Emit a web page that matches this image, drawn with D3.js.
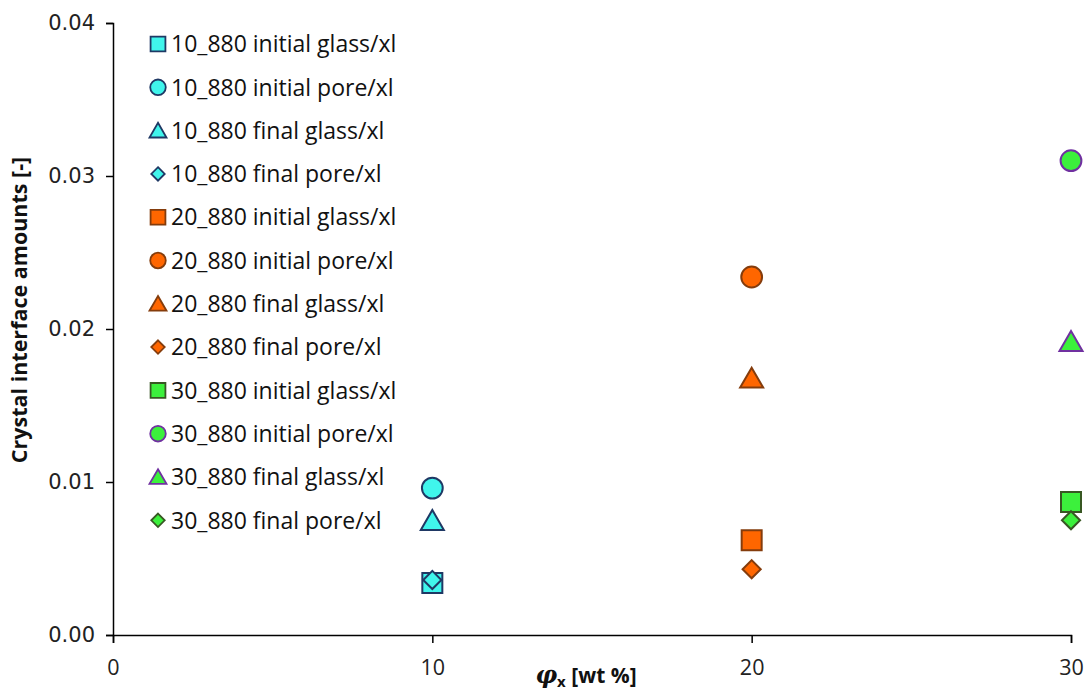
<!DOCTYPE html>
<html><head><meta charset="utf-8">
<script src="https://cdn.jsdelivr.net/npm/d3@7"></script>
<style>body{margin:0;background:#fff}</style>
</head><body>
<svg id="c" width="1090" height="690"></svg>
<script>
const seriesNames = [
 "10_880 initial glass/xl","10_880 initial pore/xl","10_880 final glass/xl","10_880 final pore/xl",
 "20_880 initial glass/xl","20_880 initial pore/xl","20_880 final glass/xl","20_880 final pore/xl",
 "30_880 initial glass/xl","30_880 initial pore/xl","30_880 final glass/xl","30_880 final pore/xl"];
const seriesX = [10,10,10,10,20,20,20,20,30,30,30,30];
const seriesY = [0.0034,0.0096,0.0075,0.0036, 0.0062,0.0234,0.0168,0.0043, 0.0087,0.0310,0.0192,0.0075];
const shapes = ["square","circle","triangle","diamond","square","circle","triangle","diamond","square","circle","triangle","diamond"];
const fills = ["#40F5EC","#40F5EC","#40F5EC","#40F5EC","#FF6600","#FF6600","#FF6600","#FF6600","#3CF03C","#3CF03C","#3CF03C","#3CF03C"];
const strokes = ["#1F3864","#1F3864","#1F3864","#1F3864","#843C0C","#843C0C","#843C0C","#843C0C","#385723","#7030A0","#7030A0","#385723"];
const xTicks = [0,10,20,30];
const yTicks = [0,0.01,0.02,0.03,0.04];

const svg = d3.select("#c");
const x = d3.scaleLinear().domain([0,30]).range([113,1071]);
const y = d3.scaleLinear().domain([0,0.04]).range([635,23]);

// axes
const xa = svg.append("g").attr("transform","translate(0,635)")
  .call(d3.axisBottom(x).tickValues(xTicks).tickSize(8).tickFormat(d3.format("d")));
xa.select(".domain").attr("stroke","#000").attr("stroke-width",1.5);
xa.selectAll(".tick line").attr("stroke","#000").attr("stroke-width",1.5);
xa.selectAll(".tick text").attr("font-family","'Open Sans', sans-serif").attr("font-size",21.5).attr("fill","#222").attr("y",25).attr("dy","0.71em");

const ya = svg.append("g").attr("transform","translate(113,0)")
  .call(d3.axisLeft(y).tickValues(yTicks).tickSize(7).tickFormat(d3.format(".2f")));
ya.select(".domain").attr("stroke","#000").attr("stroke-width",1.5);
ya.selectAll(".tick line").attr("stroke","#000").attr("stroke-width",1.5);
ya.selectAll(".tick text").attr("font-family","'DejaVu Sans', sans-serif").attr("font-size",21).attr("fill","#222").attr("x",-18);

// titles
svg.append("text").attr("transform","translate(27,310) rotate(-90)").attr("text-anchor","middle")
  .attr("font-family","'Open Sans', sans-serif").attr("font-weight","bold").attr("font-size",21.5).attr("fill","#111")
  .text("Crystal interface amounts [-]");
const xt = svg.append("text").attr("x",586).attr("y",683).attr("text-anchor","middle")
  .attr("font-family","'Open Sans', sans-serif").attr("font-weight","bold").attr("font-size",21).attr("fill","#111");
xt.append("tspan").attr("font-family","'DejaVu Serif', serif").attr("font-style","italic").attr("font-size",24).text("φ");
xt.append("tspan").attr("font-size",15).attr("dy",4).text("x");
xt.append("tspan").attr("dy",-4).text(" [wt %]");

function sym(shape, size){
  const t = {square:d3.symbolSquare,circle:d3.symbolCircle,triangle:d3.symbolTriangle,diamond:d3.symbolDiamond2}[shape];
  return d3.symbol().type(t).size(size)();
}
const bigSize = {square:400,circle:340,triangle:230,diamond:210};
const smallSize = {square:220,circle:190,triangle:125,diamond:115};

// points
const idx = d3.range(seriesNames.length);
svg.append("g").selectAll("path").data(idx).join("path")
  .attr("transform",i=>`translate(${x(seriesX[i])},${y(seriesY[i]) + (shapes[i]==="triangle"?3:0)})`)
  .attr("d",i=>sym(shapes[i], bigSize[shapes[i]]))
  .attr("fill",i=>fills[i]).attr("stroke",i=>strokes[i]).attr("stroke-width",2);

// legend
const lg = svg.append("g");
const rowY = i => 44 + i*43.3;
lg.selectAll("path").data(idx).join("path")
  .attr("transform",i=>`translate(158,${rowY(i) + (shapes[i]==="triangle"?2:0)})`)
  .attr("d",i=>sym(shapes[i], smallSize[shapes[i]]))
  .attr("fill",i=>fills[i]).attr("stroke",i=>strokes[i]).attr("stroke-width",1.8);
lg.selectAll("text").data(idx).join("text")
  .attr("x",171).attr("y",i=>rowY(i)).attr("dy","0.36em")
  .attr("font-family","'Open Sans', sans-serif").attr("font-size",23).attr("fill","#111")
  .text(i=>seriesNames[i]);
</script>
</body></html>
